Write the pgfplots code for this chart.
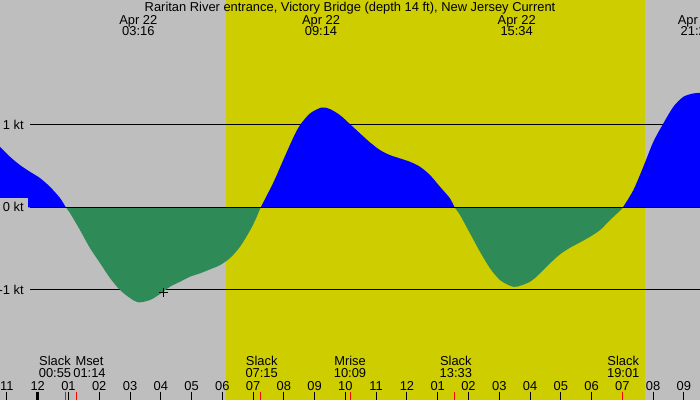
\documentclass[border=0pt]{standalone}
\usepackage{pgfplots}
\pgfplotsset{compat=1.18}
\usepgfplotslibrary{fillbetween}
\usepackage{fontspec}
\setmainfont{Liberation Sans}
\definecolor{nightgray}{RGB}{190,190,190}
\definecolor{daylight}{RGB}{205,205,0}
\definecolor{ebb}{RGB}{46,139,87}
\begin{document}
\fontsize{12.9}{14}\selectfont
\begin{tikzpicture}
\begin{axis}[
  width=700pt, height=400pt, scale only axis,
  xmin=-1.225, xmax=21.524,
  ymin=-2.333, ymax=2.512,
  axis lines=none, clip=false,
  every node/.append style={inner sep=0pt},
]
% night / day background
\fill[nightgray] (rel axis cs:0,0) rectangle (rel axis cs:1,1);
\fill[daylight] (axis cs:6.12,-2.333) rectangle (axis cs:19.74,2.512);

% kt levels
\draw[line width=1pt] (axis cs:-0.25,1) -- (axis cs:21.524,1);
\draw[line width=1pt] (axis cs:-0.25,-1) -- (axis cs:21.524,-1);

% current speed (kt) against hours from midnight Apr 22
\addplot[name path=cur, draw=none, smooth] coordinates {
(-1.225,0.734) (-0.900,0.613) (-0.575,0.512) (-0.250,0.431) (0.075,0.355)
(0.400,0.249) (0.725,0.113) (0.917,0)
(1.050,-0.069) (1.375,-0.275) (1.700,-0.493) (2.025,-0.674)
(2.350,-0.856) (2.675,-1.001) (3.000,-1.098) (3.267,-1.150) (3.650,-1.122)
(3.975,-1.050) (4.300,-0.961) (4.625,-0.901) (4.950,-0.840) (5.275,-0.799)
(5.600,-0.751) (5.925,-0.699) (6.250,-0.614) (6.575,-0.477) (6.900,-0.28)
(7.100,-0.13) (7.250,0)
(7.657,0.300) (7.982,0.575) (8.307,0.845) (8.525,0.996)
(8.850,1.138) (9.233,1.210) (9.500,1.190) (9.825,1.117) (10.150,1.008)
(10.475,0.896) (10.800,0.787) (11.125,0.694) (11.450,0.633) (11.775,0.593)
(12.100,0.552) (12.425,0.492) (12.750,0.391) (13.075,0.249) (13.400,0.109)
(13.550,0)
(13.725,-0.093) (14.050,-0.315) (14.375,-0.538) (14.700,-0.738)
(15.025,-0.880) (15.350,-0.949) (15.567,-0.961) (15.999,-0.901) (16.324,-0.799)
(16.649,-0.678) (16.974,-0.569) (17.299,-0.489) (17.624,-0.424) (17.949,-0.356)
(18.274,-0.275) (18.599,-0.154) (18.924,-0.040) (19.017,0)
(19.357,0.209) (19.682,0.492) (20.007,0.794) (20.332,1.017)
(20.657,1.218) (20.982,1.339) (21.307,1.380) (21.524,1.387)};
\addplot[name path=zero, draw=none] coordinates {(-1.225,0) (21.524,0)};
\addplot[draw=none] fill between[of=cur and zero, split, on layer=main,
  every even segment/.style={fill=blue},
  every odd segment/.style={fill=ebb}];

\draw[line width=1pt] (axis cs:-0.25,0) -- (axis cs:21.524,0);
\addplot[only marks, mark=+, mark size=4.3pt, line width=1pt, black] coordinates {(4.082,-1.029)};

\node[anchor=east] at (axis cs:-0.31,1) {1 kt};
\node[anchor=east, fill=nightgray] at (axis cs:-0.31,0) {0 kt};
\node[anchor=east] at (axis cs:-0.31,-1) {-1 kt};

% title and max/min times
\node[anchor=base] at (axis cs:10.15,2.377) {Raritan River entrance, Victory Bridge (depth 14 ft), New Jersey Current};
\node[anchor=base] at (axis cs:3.270,2.215) {Apr 22};
\node[anchor=base] at (axis cs:3.270,2.077) {03:16};
\node[anchor=base] at (axis cs:9.207,2.215) {Apr 22};
\node[anchor=base] at (axis cs:9.207,2.077) {09:14};
\node[anchor=base] at (axis cs:15.567,2.215) {Apr 22};
\node[anchor=base] at (axis cs:15.567,2.077) {15:34};
\node[anchor=base] at (axis cs:21.420,2.215) {Apr 22};
\node[anchor=base] at (axis cs:21.420,2.077) {21:25};

% slack / moon events
\node[anchor=base] at (axis cs:0.563,-1.919) {Slack};
\node[anchor=base] at (axis cs:0.563,-2.058) {00:55};
\node[anchor=base] at (axis cs:1.683,-1.919) {Mset};
\node[anchor=base] at (axis cs:1.683,-2.058) {01:14};
\node[anchor=base] at (axis cs:7.280,-1.919) {Slack};
\node[anchor=base] at (axis cs:7.280,-2.058) {07:15};
\node[anchor=base] at (axis cs:10.150,-1.919) {Mrise};
\node[anchor=base] at (axis cs:10.150,-2.058) {10:09};
\node[anchor=base] at (axis cs:13.590,-1.919) {Slack};
\node[anchor=base] at (axis cs:13.590,-2.058) {13:33};
\node[anchor=base] at (axis cs:19.030,-1.919) {Slack};
\node[anchor=base] at (axis cs:19.030,-2.058) {19:01};

% hour ticks
\pgfplotsinvokeforeach{-1,...,21}{
  \draw[line width=1pt] (axis cs:#1,-2.232) -- (axis cs:#1,-2.333);
}
\draw[line width=3pt] (axis cs:0,-2.232) -- (axis cs:0,-2.333);
\pgfplotsinvokeforeach{0.917,1.26,7.25,10.15,13.55,19.017}{
  \draw[line width=1pt, red] (axis cs:#1,-2.232) -- (axis cs:#1,-2.333);
}
\node[anchor=base] at (axis cs:-1,-2.213) {11};
\node[anchor=base] at (axis cs:0,-2.213) {12};
\node[anchor=base] at (axis cs:1,-2.213) {01};
\node[anchor=base] at (axis cs:2,-2.213) {02};
\node[anchor=base] at (axis cs:3,-2.213) {03};
\node[anchor=base] at (axis cs:4,-2.213) {04};
\node[anchor=base] at (axis cs:5,-2.213) {05};
\node[anchor=base] at (axis cs:6,-2.213) {06};
\node[anchor=base] at (axis cs:7,-2.213) {07};
\node[anchor=base] at (axis cs:8,-2.213) {08};
\node[anchor=base] at (axis cs:9,-2.213) {09};
\node[anchor=base] at (axis cs:10,-2.213) {10};
\node[anchor=base] at (axis cs:11,-2.213) {11};
\node[anchor=base] at (axis cs:12,-2.213) {12};
\node[anchor=base] at (axis cs:13,-2.213) {01};
\node[anchor=base] at (axis cs:14,-2.213) {02};
\node[anchor=base] at (axis cs:15,-2.213) {03};
\node[anchor=base] at (axis cs:16,-2.213) {04};
\node[anchor=base] at (axis cs:17,-2.213) {05};
\node[anchor=base] at (axis cs:18,-2.213) {06};
\node[anchor=base] at (axis cs:19,-2.213) {07};
\node[anchor=base] at (axis cs:20,-2.213) {08};
\node[anchor=base] at (axis cs:21,-2.213) {09};
\end{axis}
\pgfresetboundingbox
\useasboundingbox (current axis.south west) rectangle (current axis.north east);
\end{tikzpicture}
\end{document}
